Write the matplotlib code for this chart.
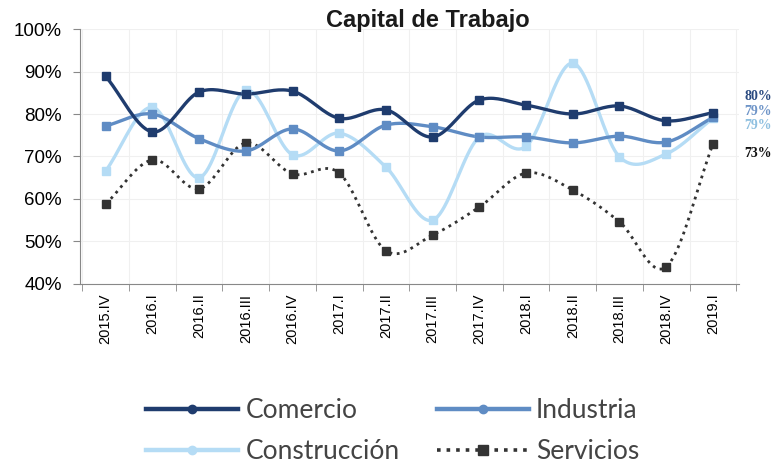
import numpy as np
import matplotlib
matplotlib.use('Agg')
import matplotlib.pyplot as plt
from matplotlib.lines import Line2D
from matplotlib.transforms import blended_transform_factory

# Datos
trimestres = ['2015.IV', '2016.I', '2016.II', '2016.III', '2016.IV', '2017.I', '2017.II',
              '2017.III', '2017.IV', '2018.I', '2018.II', '2018.III', '2018.IV', '2019.I']
comercio = [88.9, 75.8, 85.2, 84.7, 85.4, 79.0, 81.0, 74.6, 83.3, 82.1, 80.0, 81.9, 78.4, 80.3]
industria = [77.2, 80.0, 74.2, 71.3, 76.5, 71.3, 77.4, 77.0, 74.6, 74.6, 73.2, 74.8, 73.4, 79.2]
construccion = [66.6, 81.6, 65.0, 85.6, 70.4, 75.5, 67.5, 55.0, 74.6, 72.4, 92.0, 69.9, 70.6, 79.0]
servicios = [58.8, 69.2, 62.4, 73.2, 65.9, 66.1, 47.8, 51.5, 58.1, 66.1, 62.1, 54.6, 44.0, 72.9]
nombres = ['Comercio', 'Industria', 'Construcción', 'Servicios']
etiquetas_fin = ['80%', '79%', '79%', '73%']
etiqueta_y = [84.2, 80.6, 77.3, 70.6]

colores = ['#1f3c6e', '#5f8cc4', '#b5dcf5', '#333333']
color_etq = ['#2a4a80', '#6f95c8', '#8fc0e0', '#111111']
fuente = ['Liberation Sans', 'DejaVu Sans']


# Curva suavizada tipo Excel (Catmull-Rom) solo para el trazo
def suavizar(x, y, n=20):
    x = np.asarray(x, float)
    y = np.asarray(y, float)
    px = np.concatenate([[2 * x[0] - x[1]], x, [2 * x[-1] - x[-2]]])
    py = np.concatenate([[2 * y[0] - y[1]], y, [2 * y[-1] - y[-2]]])
    xs, ys = [], []
    for i in range(1, len(px) - 2):
        t = np.linspace(0, 1, n, endpoint=False)
        for p, out in ((px, xs), (py, ys)):
            p0, p1, p2, p3 = p[i - 1], p[i], p[i + 1], p[i + 2]
            out.extend(0.5 * ((2 * p1) + (-p0 + p2) * t
                              + (2 * p0 - 5 * p1 + 4 * p2 - p3) * t ** 2
                              + (-p0 + 3 * p1 - 3 * p2 + p3) * t ** 3))
    xs.append(x[-1])
    ys.append(y[-1])
    return np.array(xs), np.array(ys)


fig = plt.figure(figsize=(7.73, 4.63), dpi=100)
ax = fig.add_axes([0.1035, 0.387, 0.852, 0.55])

x = np.arange(len(trimestres))
series = [comercio, industria, construccion, servicios]
for serie, c in zip(series[::-1], colores[::-1]):
    sx, sy = suavizar(x, serie)
    estilo = ':' if c == colores[3] else '-'
    ax.plot(sx, sy, color=c, lw=2.4 if estilo == '-' else 2.0, ls=estilo, zorder=3)
    ax.plot(x, serie, ls='none', marker='s', ms=6, color=c, zorder=4)

# etiquetas del ultimo valor, pegadas al borde derecho
trans = blended_transform_factory(fig.transFigure, ax.transData)
for txt, yv, c in zip(etiquetas_fin, etiqueta_y, color_etq):
    ax.text(0.9985, yv, txt, color=c, fontsize=10, fontweight='bold',
            family='Liberation Serif', va='center', ha='right',
            transform=trans, clip_on=False)

ax.set_ylim(40, 100)
ax.set_xlim(-0.55, 13.55)
ax.set_yticks(range(40, 101, 10))
ax.set_yticklabels([f'{v}%' for v in range(40, 101, 10)], fontsize=13.5, family=fuente)
ax.set_xticks(x)
ax.set_xticklabels(trimestres, rotation=90, fontsize=10.5, family=fuente)
ax.set_xticks(np.arange(-0.5, 14, 1), minor=True)
ax.tick_params(axis='x', which='major', length=0, pad=7)
ax.tick_params(axis='x', which='minor', length=5, color='#888888', direction='out')
ax.tick_params(axis='y', length=5, color='#888888', pad=8)
ax.grid(True, which='minor', axis='x', color='#f0f0f0', lw=0.8)
ax.grid(True, which='major', axis='y', color='#f0f0f0', lw=0.8)
ax.set_axisbelow(True)
for s in ['top', 'right']:
    ax.spines[s].set_visible(False)
for s in ['left', 'bottom']:
    ax.spines[s].set_color('#888888')

fig.text(0.553, 0.956, 'Capital de Trabajo', ha='center', va='center', fontsize=17,
         fontweight='bold', family=fuente, color='#1a1a1a')

manejadores = []
for c in colores:
    estilo = ':' if c == colores[3] else '-'
    manejadores.append(Line2D([], [], color=c, lw=3.2 if estilo == '-' else 2.6, ls=estilo,
                              marker='s' if estilo == ':' else 'o',
                              ms=7 if estilo == ':' else 6))
orden = [0, 2, 1, 3]
fig.legend([manejadores[i] for i in orden], [nombres[i] for i in orden],
           loc='center', bbox_to_anchor=(0.508, 0.069), ncol=2, frameon=False,
           handlelength=3.5, handletextpad=0.27, columnspacing=1.4, labelspacing=0.6,
           prop={'family': 'Lato', 'size': 19}, labelcolor='#444444')

fig.savefig('out.png', dpi=100)
